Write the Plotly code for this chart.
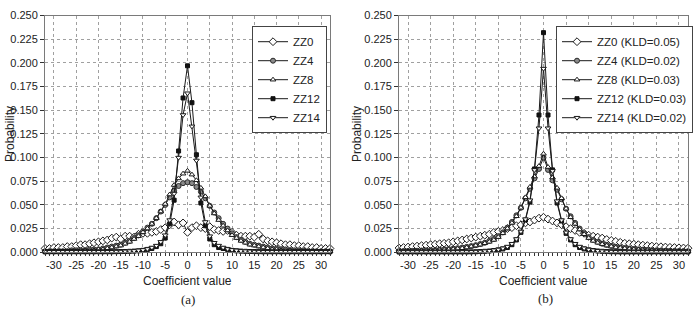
import plotly.graph_objects as go

x_vals = list(range(-32, 33))
x_tick_vals = [-30, -25, -20, -15, -10, -5, 0, 5, 10, 15, 20, 25, 30]
x_tick_text = ["-30", "-25", "-20", "-15", "-10", "-5", "0", "5", "10", "15", "20", "25", "30"]

# ---------- panel (a) ----------
zz0_a = [0.004, 0.004, 0.005, 0.005, 0.005, 0.006, 0.006, 0.007, 0.008, 0.008, 0.009, 0.010,
         0.011, 0.012, 0.013, 0.015, 0.016, 0.014, 0.017, 0.017, 0.016, 0.019, 0.020, 0.020,
         0.021, 0.022, 0.024, 0.026, 0.029, 0.032, 0.029, 0.031, 0.021, 0.026, 0.028, 0.026,
         0.025, 0.027, 0.024, 0.023, 0.022, 0.023, 0.021, 0.018, 0.017, 0.017, 0.017, 0.016,
         0.019, 0.014, 0.012, 0.011, 0.010, 0.009, 0.008, 0.008, 0.007, 0.007, 0.006, 0.006,
         0.005, 0.005, 0.004, 0.004, 0.004]
zz4_a = [0.001, 0.001, 0.001, 0.001, 0.001, 0.001, 0.002, 0.002, 0.002, 0.002, 0.003, 0.003,
         0.003, 0.004, 0.005, 0.006, 0.007, 0.008, 0.010, 0.012, 0.015, 0.018, 0.022, 0.026,
         0.030, 0.036, 0.043, 0.050, 0.058, 0.065, 0.070, 0.073, 0.074, 0.073, 0.069, 0.064,
         0.057, 0.049, 0.042, 0.036, 0.030, 0.025, 0.020, 0.016, 0.013, 0.011, 0.009, 0.008,
         0.007, 0.006, 0.005, 0.004, 0.004, 0.003, 0.003, 0.002, 0.002, 0.002, 0.002, 0.001,
         0.001, 0.001, 0.001, 0.001, 0.001]
zz8_a = [0.001, 0.001, 0.001, 0.001, 0.001, 0.001, 0.001, 0.001, 0.002, 0.002, 0.002, 0.002,
         0.003, 0.003, 0.004, 0.005, 0.006, 0.007, 0.009, 0.011, 0.014, 0.017, 0.021, 0.025,
         0.030, 0.036, 0.043, 0.051, 0.061, 0.071, 0.078, 0.083, 0.086, 0.082, 0.076, 0.068,
         0.059, 0.049, 0.041, 0.034, 0.028, 0.023, 0.018, 0.015, 0.012, 0.010, 0.008, 0.007,
         0.006, 0.005, 0.004, 0.003, 0.003, 0.002, 0.002, 0.002, 0.001, 0.001, 0.001, 0.001,
         0.001, 0.001, 0.001, 0.001, 0.001]
zz12_a = [0.0005, 0.0005, 0.0005, 0.0005, 0.0005, 0.0005, 0.0005, 0.0005, 0.0005, 0.0005,
          0.0005, 0.0005, 0.0005, 0.0005, 0.0005, 0.0005, 0.0006, 0.0007, 0.0008, 0.001,
          0.0012, 0.0015, 0.002, 0.003, 0.004, 0.006, 0.009, 0.015, 0.030, 0.055, 0.107,
          0.163, 0.197, 0.158, 0.103, 0.052, 0.028, 0.014, 0.008, 0.005, 0.004, 0.003, 0.002,
          0.0015, 0.0012, 0.001, 0.0008, 0.0007, 0.0006, 0.0005, 0.0005, 0.0005, 0.0005,
          0.0005, 0.0005, 0.0005, 0.0005, 0.0005, 0.0005, 0.0005, 0.0005, 0.0005, 0.0005,
          0.0005, 0.0005]
zz14_a = [0.0005, 0.0005, 0.0005, 0.0005, 0.0005, 0.0005, 0.0005, 0.0005, 0.0005, 0.0005,
          0.0005, 0.0005, 0.0005, 0.0005, 0.0005, 0.0005, 0.0007, 0.0008, 0.001, 0.0012,
          0.0015, 0.002, 0.0025, 0.0035, 0.005, 0.007, 0.011, 0.018, 0.034, 0.062, 0.100,
          0.145, 0.168, 0.133, 0.097, 0.058, 0.032, 0.017, 0.010, 0.007, 0.005, 0.0035,
          0.0025, 0.002, 0.0015, 0.0012, 0.001, 0.0008, 0.0007, 0.0005, 0.0005, 0.0005,
          0.0005, 0.0005, 0.0005, 0.0005, 0.0005, 0.0005, 0.0005, 0.0005, 0.0005, 0.0005,
          0.0005, 0.0005, 0.0005]

# ---------- panel (b) ----------
zz0_b = [0.0045, 0.005, 0.0055, 0.006, 0.0065, 0.007, 0.0075, 0.008, 0.0085, 0.009, 0.0095,
         0.010, 0.011, 0.012, 0.013, 0.014, 0.015, 0.016, 0.017, 0.018, 0.019, 0.021, 0.022,
         0.023, 0.025, 0.026, 0.028, 0.029, 0.031, 0.032, 0.034, 0.036, 0.037, 0.035, 0.033,
         0.031, 0.029, 0.027, 0.025, 0.023, 0.021, 0.020, 0.018, 0.017, 0.016, 0.015, 0.0135,
         0.0125, 0.0115, 0.0105, 0.0095, 0.009, 0.0085, 0.008, 0.0075, 0.007, 0.0065, 0.006,
         0.0058, 0.0055, 0.0052, 0.005, 0.0047, 0.0045, 0.0043]
zz4_b = [0.0012, 0.0013, 0.0014, 0.0015, 0.0016, 0.0018, 0.002, 0.0022, 0.0024, 0.0027, 0.003,
         0.0034, 0.0038, 0.0043, 0.005, 0.0057, 0.0065, 0.0075, 0.0087, 0.010, 0.012, 0.014,
         0.017, 0.021, 0.026, 0.032, 0.039, 0.047, 0.057, 0.067, 0.078, 0.088, 0.100, 0.087,
         0.076, 0.066, 0.056, 0.046, 0.038, 0.031, 0.025, 0.020, 0.016, 0.013, 0.011, 0.009,
         0.0078, 0.0067, 0.0058, 0.005, 0.0044, 0.0039, 0.0034, 0.003, 0.0027, 0.0024, 0.0022,
         0.002, 0.0018, 0.0016, 0.0015, 0.0014, 0.0013, 0.0012, 0.0011]
zz8_b = [0.001, 0.001, 0.001, 0.001, 0.0012, 0.0014, 0.0016, 0.0018, 0.002, 0.0023, 0.0026,
         0.003, 0.0033, 0.0037, 0.0042, 0.005, 0.006, 0.007, 0.008, 0.0095, 0.011, 0.013,
         0.016, 0.020, 0.025, 0.031, 0.038, 0.047, 0.058, 0.069, 0.080, 0.091, 0.104, 0.090,
         0.079, 0.068, 0.057, 0.046, 0.037, 0.030, 0.024, 0.019, 0.015, 0.012, 0.010, 0.0085,
         0.007, 0.006, 0.005, 0.0045, 0.004, 0.0035, 0.003, 0.0027, 0.0024, 0.0022, 0.002,
         0.0018, 0.0016, 0.0014, 0.0012, 0.0011, 0.001, 0.001, 0.001]
zz12_b = [0.0003, 0.0003, 0.0003, 0.0003, 0.0003, 0.0003, 0.0003, 0.0003, 0.0003, 0.0003,
          0.0003, 0.0003, 0.0003, 0.0003, 0.0003, 0.0003, 0.0004, 0.0005, 0.0007, 0.001,
          0.0013, 0.0018, 0.0025, 0.0035, 0.005, 0.008, 0.013, 0.021, 0.034, 0.053, 0.088,
          0.145, 0.232, 0.145, 0.087, 0.052, 0.033, 0.020, 0.013, 0.008, 0.005, 0.0035,
          0.0025, 0.0018, 0.0013, 0.001, 0.0007, 0.0005, 0.0004, 0.0003, 0.0003, 0.0003,
          0.0003, 0.0003, 0.0003, 0.0003, 0.0003, 0.0003, 0.0003, 0.0003, 0.0003, 0.0003,
          0.0003, 0.0003, 0.0003]
zz14_b = [0.0004, 0.0004, 0.0004, 0.0004, 0.0004, 0.0004, 0.0004, 0.0004, 0.0004, 0.0004,
          0.0004, 0.0004, 0.0004, 0.0004, 0.0004, 0.0004, 0.0005, 0.0007, 0.0009, 0.0012,
          0.0016, 0.0022, 0.003, 0.0042, 0.006, 0.009, 0.014, 0.022, 0.035, 0.055, 0.087,
          0.131, 0.194, 0.131, 0.086, 0.054, 0.034, 0.021, 0.014, 0.009, 0.006, 0.0042,
          0.003, 0.0022, 0.0016, 0.0012, 0.0009, 0.0007, 0.0005, 0.0004, 0.0004, 0.0004,
          0.0004, 0.0004, 0.0004, 0.0004, 0.0004, 0.0004, 0.0004, 0.0004, 0.0004, 0.0004,
          0.0004, 0.0004, 0.0004]

names_a = ["ZZ0", "ZZ4", "ZZ8", "ZZ12", "ZZ14"]
names_b = ["ZZ0 (KLD=0.05)", "ZZ4 (KLD=0.02)", "ZZ8 (KLD=0.03)", "ZZ12 (KLD=0.03)", "ZZ14 (KLD=0.02)"]
series_a = [zz0_a, zz4_a, zz8_a, zz12_a, zz14_a]
series_b = [zz0_b, zz4_b, zz8_b, zz12_b, zz14_b]

marker_styles = [
    dict(symbol="diamond", size=6, color="white", line=dict(color="#1a1a1a", width=1)),
    dict(symbol="circle", size=5, color="#8a8a8a", line=dict(color="#2a2a2a", width=1)),
    dict(symbol="triangle-up", size=5, color="white", line=dict(color="#1a1a1a", width=1)),
    dict(symbol="square", size=4, color="#111111", line=dict(color="#111111", width=1)),
    dict(symbol="triangle-down", size=5, color="white", line=dict(color="#1a1a1a", width=1)),
]

fig = go.Figure()
for name, ys, ms in zip(names_a, series_a, marker_styles):
    fig.add_trace(go.Scatter(x=x_vals, y=ys, name=name, mode="lines+markers",
                             line=dict(color="#1a1a1a", width=1), marker=ms,
                             xaxis="x", yaxis="y", legend="legend", cliponaxis=False))
for name, ys, ms in zip(names_b, series_b, marker_styles):
    fig.add_trace(go.Scatter(x=x_vals, y=ys, name=name, mode="lines+markers",
                             line=dict(color="#1a1a1a", width=1), marker=ms,
                             xaxis="x2", yaxis="y2", legend="legend2", cliponaxis=False))

W, H = 696, 315
tick_font = dict(family="Liberation Sans, Arial", size=11, color="#222222")

def xax(domain, anchor):
    return dict(domain=domain, anchor=anchor, range=[-32, 32],
                tickvals=x_tick_vals, ticktext=x_tick_text,
                showgrid=True, gridcolor="#a0a0a0", griddash="dot", gridwidth=1,
                showline=True, linecolor="#7a7a7a", linewidth=1, mirror=True,
                ticks="outside", ticklen=3, tickcolor="#333333",
                minor=dict(dtick=1, tick0=0, ticks="outside", ticklen=3, tickcolor="#333333",
                           showgrid=False),
                zeroline=False, tickfont=tick_font)

def yax(domain, anchor):
    return dict(domain=domain, anchor=anchor, range=[0, 0.25], dtick=0.025, tickformat=".3f",
                showgrid=True, gridcolor="#a0a0a0", griddash="dot", gridwidth=1,
                showline=True, linecolor="#7a7a7a", linewidth=1, mirror=True,
                ticks="outside", ticklen=4, tickcolor="#333333",
                zeroline=False, tickfont=tick_font)

ydom = [(H - 256) / H, (H - 10) / H]
overlay_common = dict(range=[-32, 32], showgrid=False, showline=False, showticklabels=False,
                      tickvals=x_tick_vals, ticks="inside", ticklen=3, tickcolor="#333333",
                      minor=dict(dtick=1, tick0=0, ticks="inside", ticklen=3, tickcolor="#333333"),
                      zeroline=False)
fig.update_layout(
    width=W, height=H, margin=dict(l=0, r=0, t=0, b=0),
    paper_bgcolor="white", plot_bgcolor="white",
    xaxis=xax([45 / W, 330 / W], "y"),
    yaxis=yax(ydom, "x"),
    xaxis2=xax([399 / W, 688 / W], "y2"),
    yaxis2=yax(ydom, "x2"),
    xaxis3=dict(overlaying="x", anchor="y", **overlay_common),
    xaxis4=dict(overlaying="x2", anchor="y2", **overlay_common),
    legend=dict(x=252 / W, y=1 - 21 / H, xanchor="left", yanchor="top",
                bgcolor="white", bordercolor="#444444", borderwidth=1,
                font=dict(family="Liberation Sans, Arial", size=11.5, color="#222222"),
                tracegroupgap=0, itemwidth=30),
    legend2=dict(x=556 / W, y=1 - 21 / H, xanchor="left", yanchor="top",
                 bgcolor="white", bordercolor="#444444", borderwidth=1,
                 font=dict(family="Liberation Sans, Arial", size=11.5, color="#222222"),
                 tracegroupgap=0, itemwidth=30),
    showlegend=True,
)

ann_font = dict(family="Liberation Sans, Arial", size=12, color="#222222")
serif_font = dict(family="Liberation Serif, Times New Roman", size=13, color="#222222")
annotations = [
    dict(text="Probability", x=10 / W, y=1 - 133 / H, textangle=-90, font=ann_font),
    dict(text="Probability", x=357 / W, y=1 - 133 / H, textangle=-90, font=ann_font),
    dict(text="Coefficient value", x=187.5 / W, y=1 - 286 / H, font=ann_font),
    dict(text="Coefficient value", x=543.5 / W, y=1 - 286 / H, font=ann_font),
    dict(text="(a)", x=188 / W, y=1 - 305 / H, font=serif_font),
    dict(text="(b)", x=545.5 / W, y=1 - 304 / H, font=serif_font),
]
for a in annotations:
    a.update(xref="paper", yref="paper", showarrow=False, xanchor="center", yanchor="middle")
fig.update_layout(annotations=annotations)

fig.write_html("out.html")
